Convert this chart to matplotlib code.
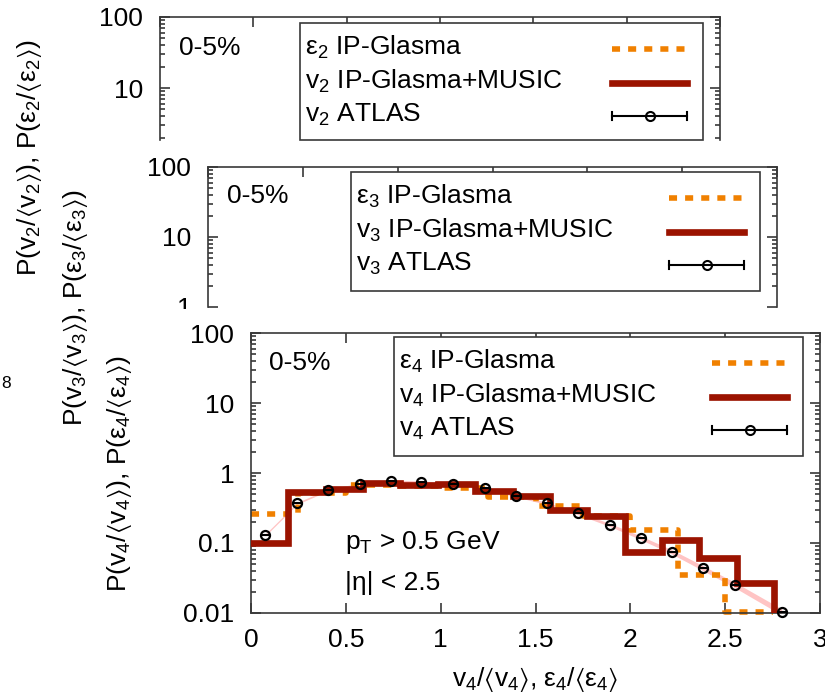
import numpy as np
import matplotlib
matplotlib.use("Agg")
import matplotlib.pyplot as plt
import matplotlib.transforms as mtransforms
from matplotlib.lines import Line2D
from matplotlib.patches import Rectangle
from matplotlib.ticker import FixedLocator, LogLocator, NullFormatter, FuncFormatter

FS = 19
plt.rcParams['font.family'] = ['Liberation Sans', 'DejaVu Sans']
plt.rcParams['mathtext.fontset'] = 'custom'
plt.rcParams['mathtext.rm'] = 'Liberation Sans'
plt.rcParams['mathtext.it'] = 'Liberation Sans:italic'
plt.rcParams['mathtext.default'] = 'regular'
plt.rcParams['font.size'] = FS

# eps_4 distribution from IP-Glasma (bin edges and heights)
eps4_edges = [0.0, 0.25, 0.5, 0.75, 1.0, 1.25, 1.5, 1.75, 2.0, 2.25, 2.5, 2.75]
eps4_vals = [0.26, 0.52, 0.68, 0.66, 0.61, 0.46, 0.34, 0.24, 0.155, 0.035, 0.0105]

# v_4 distribution from IP-Glasma+MUSIC
v4_edges = [0.0, 0.197, 0.394, 0.591, 0.788, 0.985, 1.182, 1.379, 1.576,
            1.773, 1.970, 2.167, 2.364, 2.561, 2.758]
v4_vals = [0.10, 0.535, 0.59, 0.71, 0.67, 0.69, 0.55, 0.47, 0.30,
           0.245, 0.075, 0.112, 0.062, 0.027]

# ATLAS v_4 data
atlas_x = [0.075, 0.244, 0.406, 0.576, 0.736, 0.898, 1.063, 1.234, 1.397,
           1.559, 1.722, 1.893, 2.054, 2.218, 2.385, 2.552, 2.798]
atlas_y = [0.130, 0.369, 0.571, 0.697, 0.768, 0.751, 0.689, 0.604, 0.474,
           0.369, 0.266, 0.181, 0.119, 0.075, 0.0435, 0.0251, 0.0104]
atlas_sys = [0.03, 0.03, 0.03, 0.03, 0.03, 0.03, 0.03, 0.03, 0.04,
             0.04, 0.04, 0.05, 0.06, 0.07, 0.08, 0.09, 0.10]

x_ticks = [0, 0.5, 1, 1.5, 2, 2.5, 3]
y_ticks = [0.01, 0.1, 1, 10, 100]

ORANGE = '#f08000'
DARKRED = '#9b1300'
EDGE = '#383838'
DASH = (0, (1.45, 1.45))

W, H = 825, 698
fig = plt.figure(figsize=(W / 100, H / 100), dpi=100)
# pixel coordinates measured from the top-left corner of the canvas
PX = mtransforms.Affine2D().scale(1.0 / W, -1.0 / H).translate(0, 1) + fig.transFigure


def fmt(v, pos):
    return f"{v:g}"


def panel(left, top, right, bottom, ymin, cropped):
    ax = fig.add_axes([left / W, 1 - bottom / H, (right - left) / W, (bottom - top) / H])
    ax.set_yscale('log')
    ax.set_xlim(0, 3)
    ax.set_ylim(ymin, 100)
    ax.xaxis.set_major_locator(FixedLocator(x_ticks))
    ax.xaxis.set_major_formatter(FuncFormatter(fmt))
    ax.yaxis.set_major_locator(FixedLocator(y_ticks))
    ax.yaxis.set_major_formatter(FuncFormatter(fmt))
    ax.yaxis.set_minor_locator(LogLocator(base=10, subs=np.arange(2, 10)))
    ax.yaxis.set_minor_formatter(NullFormatter())
    ax.tick_params(which='both', direction='in', top=True, right=True,
                   color=EDGE, width=1.2, labelsize=FS)
    ax.tick_params(which='major', length=7)
    ax.tick_params(axis='y', which='major', pad=12)
    ax.tick_params(axis='x', which='major', pad=11)
    ax.tick_params(which='minor', length=3.5)
    for s in ax.spines.values():
        s.set_color(EDGE)
        s.set_linewidth(1.2)
    if cropped:
        ax.spines['bottom'].set_visible(False)
        ax.tick_params(axis='x', bottom=False, labelbottom=False)
    return ax


def key(ax, n, bx0, by0, bx1, by1):
    ax.add_artist(Rectangle((bx0, by0), bx1 - bx0, by1 - by0, transform=PX,
                            fc='white', ec=EDGE, lw=1.2, clip_on=False, zorder=5))
    labels = ["ε$_%d$ IP-Glasma" % n, "v$_%d$ IP-Glasma+MUSIC" % n, "v$_%d$ ATLAS" % n]
    for i, lab in enumerate(labels):
        ax.text(bx0 + 5, by0 + 32 + 33.5 * i, lab, transform=PX, ha='left',
                va='baseline', zorder=6)
    xa, xb = bx1 - 91, bx1 - 16
    ax.add_artist(Line2D([xa, xb], [by0 + 26] * 2, transform=PX, color=ORANGE,
                         lw=4, ls=DASH, clip_on=False, zorder=6))
    ax.add_artist(Line2D([xa, xb], [by0 + 59.5] * 2, transform=PX, color=DARKRED,
                         lw=4.8, clip_on=False, zorder=6))
    yb = by0 + 93
    ax.add_artist(Line2D([xa, xb], [yb, yb], transform=PX, color='black',
                         lw=1.5, clip_on=False, zorder=6))
    for xc in (xa, xb):
        ax.add_artist(Line2D([xc, xc], [yb - 4, yb + 4], transform=PX, color='black',
                             lw=1.5, clip_on=False, zorder=6))
    ax.add_artist(Line2D([(xa + xb) / 2], [yb], transform=PX, marker='o', ms=6.5,
                         mfc='none', mec='black', mew=1.5, clip_on=False, zorder=6))


# n = 2 panel, cut off below 2
ax2 = panel(160, 17, 720, 140, 10 ** (2 - 123 / 71.0), True)
ax2.text(179, 55, '0-5%', transform=PX, va='baseline')
key(ax2, 2, 300, 23, 703, 140)

# n = 3 panel, cut off below 1
ax3 = panel(208, 167, 777, 307, 1.0, True)
ax3.text(227, 203, '0-5%', transform=PX, va='baseline')
key(ax3, 3, 351, 172, 760, 291)
clip = mtransforms.TransformedBbox(
    mtransforms.Bbox.from_extents(0, 1 - 309 / H, 1, 1), fig.transFigure)
for t in ax3.yaxis.get_major_ticks():
    t.label1.set_clip_box(clip)
    t.label1.set_clip_on(True)

# n = 4 panel with the distributions
ax4 = panel(251, 333, 820, 613, 0.01, False)
ax4.text(269, 370, '0-5%', transform=PX, va='baseline')
key(ax4, 4, 394, 337, 803, 456)

ay = np.array(atlas_y)
err = np.array(atlas_sys)
ax4.fill_between(atlas_x, ay * (1 - err), ay * (1 + err), color='#ffc4c4', lw=0, zorder=1)

xs = np.repeat(eps4_edges, 2)[1:-1]
ys = np.repeat(eps4_vals, 2)
ax4.plot(xs, ys, color=ORANGE, lw=4, ls=DASH, clip_on=False, zorder=2)

xs = np.append(np.repeat(v4_edges, 2)[1:-1], v4_edges[-1])
ys = np.append(np.repeat(v4_vals, 2), 1e-4)
ax4.plot(xs, ys, color=DARKRED, lw=4.8, zorder=3, solid_joinstyle='miter')

eb = ax4.errorbar(atlas_x, atlas_y, xerr=0.022, fmt='o', ms=6.5, mfc='none', mec='black',
                  mew=1.6, ecolor='black', elinewidth=1.5, capsize=0, zorder=4)
for a in eb.lines[0:1] + tuple(eb.lines[2]):
    a.set_clip_on(False)

ax4.text(345, 549, 'p$_T$ > 0.5 GeV', transform=PX, va='baseline')
ax4.text(345, 590, '|η| < 2.5', transform=PX, va='baseline')
ax4.text(535, 686, 'v$_4$/$\\langle$v$_4$$\\rangle$, ε$_4$/$\\langle$ε$_4$$\\rangle$',
         transform=PX, ha='center', va='baseline')

# y axis titles, centred on the full height of each panel
ylab = 'P(v$_%d$/$\\langle$v$_%d$$\\rangle$), P(ε$_%d$/$\\langle$ε$_%d$$\\rangle$)'
fig.text(30 / W, 1 - 157 / H, ylab % (2, 2, 2, 2), rotation=90, ha='center', va='center')
fig.text(75 / W, 1 - 307 / H, ylab % (3, 3, 3, 3), rotation=90, ha='center', va='center')
fig.text(119 / W, 1 - 473 / H, ylab % (4, 4, 4, 4), rotation=90, ha='center', va='center')

fig.text(1 / W, 1 - 388 / H, '8', fontsize=12.5)

fig.savefig('out.png', dpi=100)
